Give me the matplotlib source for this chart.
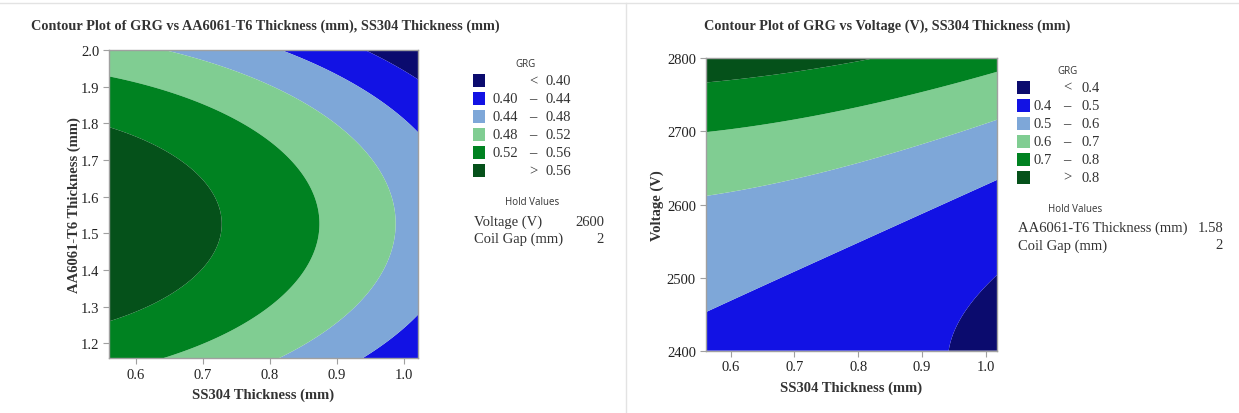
import numpy as np
import matplotlib
matplotlib.use("Agg")
import matplotlib.pyplot as plt
from matplotlib.patches import Rectangle
from matplotlib.lines import Line2D

# contour colours, low -> high
colors = ["#0b0b6e", "#1212e4", "#7ea7d8", "#80cd92", "#008221", "#05511a"]

# left panel: GRG vs SS304 / AA6061-T6 thickness, points read along the contour edges
left_levels = [0.40, 0.44, 0.48, 0.52, 0.56]
left_ss = [0.56, 0.56, 0.728, 0.56, 0.874, 0.642, 0.646, 0.988, 0.814,
           0.815, 1.02, 1.02, 0.939, 0.942, 1.02]
left_aa = [1.79, 1.26, 1.527, 1.927, 1.527, 1.16, 2.0, 1.527, 1.16,
           2.0, 1.778, 1.277, 1.16, 2.0, 1.921]
left_grg = [0.56, 0.56, 0.56, 0.52, 0.52, 0.52, 0.48, 0.48, 0.48,
            0.44, 0.44, 0.44, 0.44, 0.40, 0.40]
left_hold = [("Voltage (V)", "2600"), ("Coil Gap (mm)", "2")]

# right panel: GRG vs SS304 thickness / voltage
right_levels = [0.4, 0.5, 0.6, 0.7, 0.8]
right_ss = [0.56, 0.70, 0.803, 0.56, 0.80, 1.02, 0.56, 0.80, 1.02,
            0.56, 0.80, 1.02, 0.944, 0.96, 1.02]
right_v = [2768, 2775, 2800, 2700, 2735, 2782, 2612, 2657, 2716,
           2450, 2548, 2634, 2400, 2450, 2505]
right_grg = [0.8, 0.8, 0.8, 0.7, 0.7, 0.7, 0.6, 0.6, 0.6,
             0.5, 0.5, 0.5, 0.4, 0.4, 0.4]
right_hold = [("AA6061-T6 Thickness (mm)", "1.58"), ("Coil Gap (mm)", "2")]

W, H = 1239, 414
SERIF = "Liberation Serif"
SANS = "Open Sans"


def quad_surface(u, w, z, uu, ww):
    # full quadratic response surface fitted to the contour readings
    u, w, z = map(np.asarray, (u, w, z))
    mu, su, mw, sw = u.mean(), u.std(), w.mean(), w.std()

    def terms(a, b):
        a = (a - mu) / su
        b = (b - mw) / sw
        return np.stack([np.ones_like(a), a, b, a * a, b * b, a * b], axis=-1)

    coef = np.linalg.lstsq(terms(u, w), z, rcond=None)[0]
    return terms(uu, ww) @ coef


def px(x, y):
    return x / W, 1 - y / H


def style_axes(ax):
    for s in ax.spines.values():
        s.set_color("#a0a0a0")
        s.set_linewidth(1.0)
    ax.tick_params(direction="out", length=4, width=0.8, color="#a0a0a0",
                   labelsize=10.5, labelcolor="#222222", pad=3)
    for lab in ax.get_xticklabels() + ax.get_yticklabels():
        lab.set_family(SERIF)


def panel(rect, ss, yv, grg, levels, xlim, ylim, yticks, yfmt, ylabel, title, title_x, ylpad):
    ax = fig.add_axes(rect)
    gx = np.linspace(xlim[0], xlim[1], 400)
    gy = np.linspace(ylim[0], ylim[1], 400)
    GX, GY = np.meshgrid(gx, gy)
    Z = quad_surface(ss, yv, grg, GX, GY)
    bounds = [-10] + list(levels) + [10]
    ax.contourf(GX, GY, Z, levels=bounds, colors=colors, antialiased=True)
    ax.set_xlim(xlim)
    ax.set_ylim(ylim)
    ax.set_xticks([0.6, 0.7, 0.8, 0.9, 1.0])
    ax.set_xticklabels(["%.1f" % t for t in [0.6, 0.7, 0.8, 0.9, 1.0]])
    ax.set_yticks(yticks)
    ax.set_yticklabels([yfmt % t for t in yticks])
    ax.set_xlabel("SS304 Thickness (mm)", family=SERIF, fontweight="bold",
                  fontsize=10.5, color="#333333", labelpad=5)
    ax.set_ylabel(ylabel, family=SERIF, fontweight="bold", fontsize=10.5,
                  color="#333333", labelpad=ylpad)
    style_axes(ax)
    fig.text(*px(title_x, 26), title, family=SERIF, fontweight="bold",
             fontsize=10.3, color="#333333", ha="center", va="center")
    return ax


def legend(levels, fmt, sw_x, row0, num_r, sym_c, num_l, title_c, hold, hold_x, hold_r, hold_y0):
    fig.text(*px(title_c, row0 - 17), "GRG", family=SANS, fontsize=7,
             color="#333333", ha="center", va="center")
    labels = []
    labels.append(("", "<", fmt % levels[0]))
    for lo, hi in zip(levels[:-1], levels[1:]):
        labels.append((fmt % lo, "\u2013", fmt % hi))
    labels.append(("", ">", fmt % levels[-1]))
    for i, (c, (a, s, b)) in enumerate(zip(colors, labels)):
        yc = row0 + 18 * i
        x0, y0 = px(sw_x, yc + 6.5)
        fig.patches.append(Rectangle((x0, y0), 12.5 / W, 13 / H, facecolor=c,
                                     edgecolor="none", transform=fig.transFigure))
        kw = dict(family=SERIF, fontsize=10.5, color="#333333", va="center")
        if a:
            fig.text(*px(num_r, yc), a, ha="right", **kw)
        fig.text(*px(sym_c, yc), s, ha="center", **kw)
        fig.text(*px(num_l, yc), b, ha="left", **kw)
    fig.text(*px(title_c + 7, hold_y0 - 19), "Hold Values", family=SANS,
             fontsize=7, color="#333333", ha="center", va="center")
    for j, (name, val) in enumerate(hold):
        yc = hold_y0 + 17.5 * j
        fig.text(*px(hold_x, yc), name, family=SERIF, fontsize=10.5,
                 color="#333333", ha="left", va="center")
        fig.text(*px(hold_r, yc), val, family=SERIF, fontsize=10.5,
                 color="#333333", ha="right", va="center")


fig = plt.figure(figsize=(W / 100, H / 100), dpi=100)

panel([109 / W, 1 - 359 / H, 309 / W, 308 / H], left_ss, left_aa, left_grg,
      left_levels, (0.56, 1.021), (1.16, 2.0), [1.2, 1.3, 1.4, 1.5, 1.6, 1.7, 1.8, 1.9, 2.0],
      "%.1f", "AA6061-T6 Thickness (mm)",
      "Contour Plot of GRG vs AA6061-T6 Thickness (mm), SS304 Thickness (mm)", 265, 0)

panel([705.7 / W, 1 - 351.7 / H, 291.6 / W, 292.4 / H], right_ss, right_v, right_grg,
      right_levels, (0.561, 1.018), (2400, 2800), [2400, 2500, 2600, 2700, 2800],
      "%d", "Voltage (V)",
      "Contour Plot of GRG vs Voltage (V), SS304 Thickness (mm)", 887, 2)

legend(left_levels, "%.2f", 472.7, 81.7, 518, 533, 545, 525,
       left_hold, 474, 604, 222)
legend(right_levels, "%.1f", 1017.3, 88.3, 1051.7, 1067, 1081, 1068,
       right_hold, 1018.3, 1223, 228.3)

# frame lines of the report page
fig.add_artist(Line2D([0, 1], [1 - 4 / H, 1 - 4 / H], color="#e3e3e3", lw=1))
fig.add_artist(Line2D([626 / W, 626 / W], [0, 1 - 4 / H], color="#e3e3e3", lw=1))

fig.savefig("out.png", dpi=100, facecolor="white")
